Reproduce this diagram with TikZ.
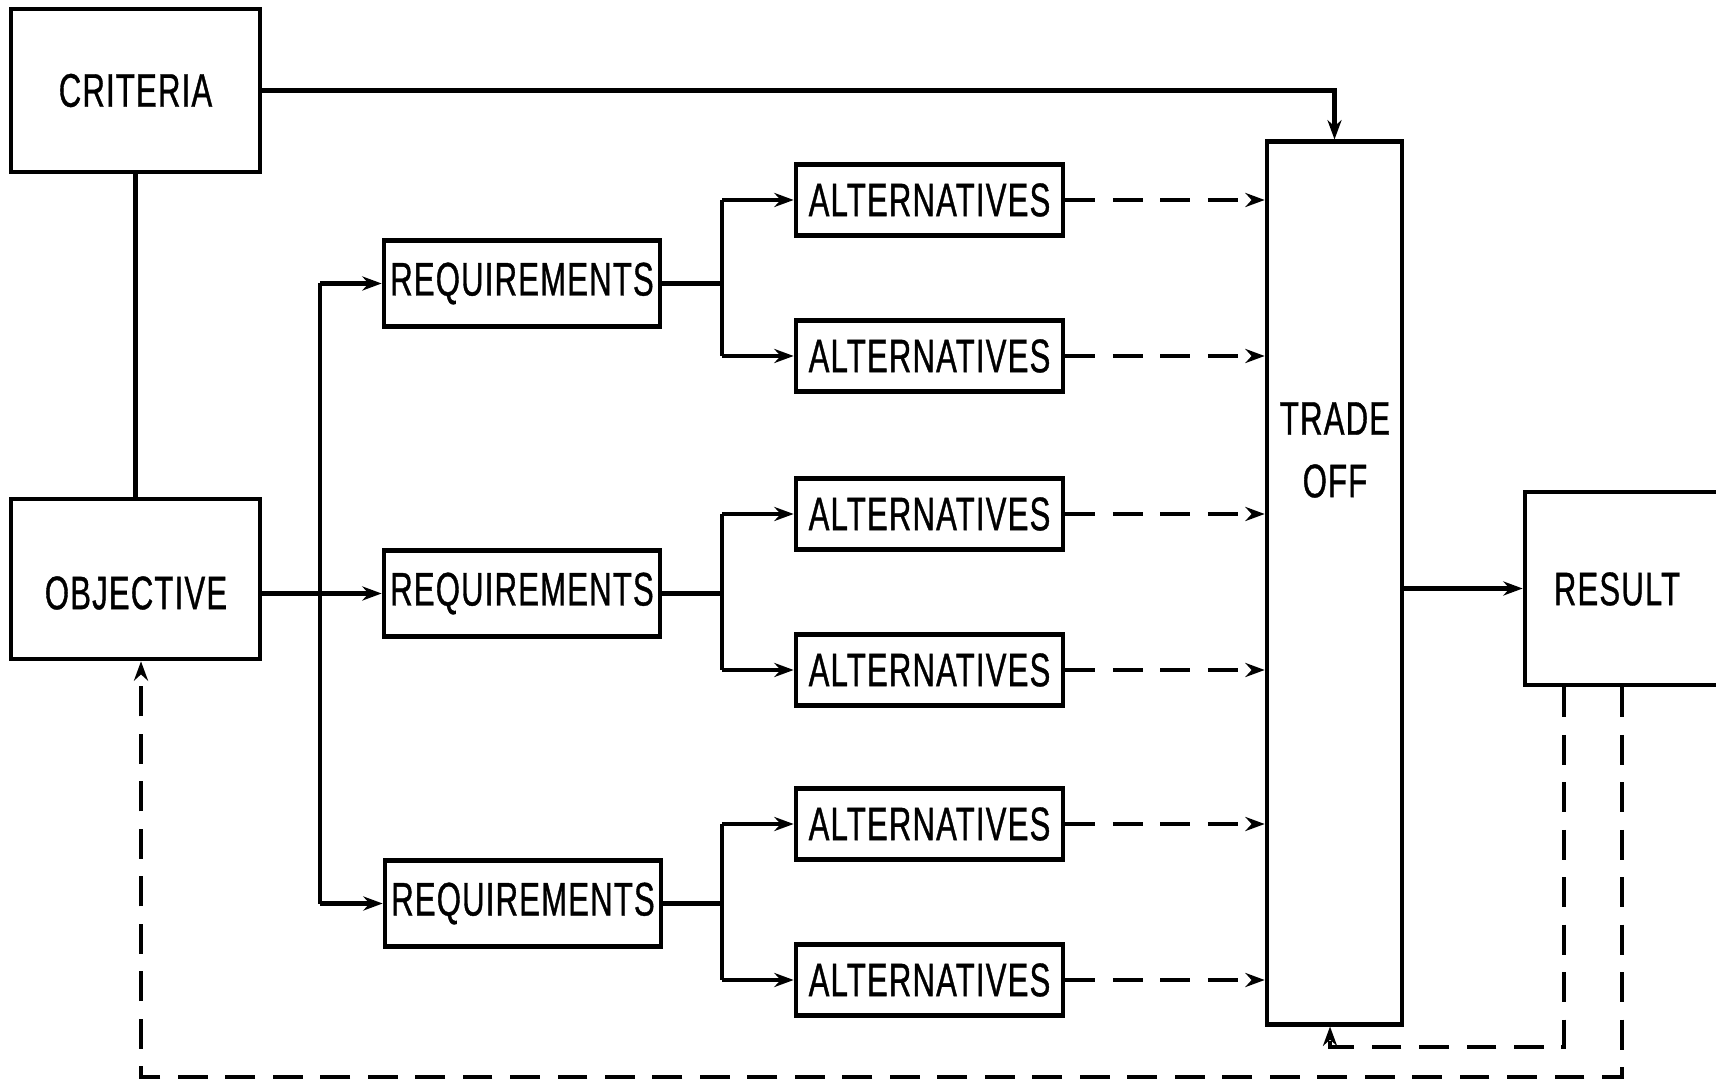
\documentclass[tikz,border=0pt]{standalone}
\usepackage{fontspec}
\setmainfont{Liberation Sans}[FakeStretch=0.66,LetterSpace=2.5,FakeBold=0.8]
\usetikzlibrary{arrows.meta}
\begin{document}
\begin{tikzpicture}[x=0.01cm,y=-0.01cm,
  box/.style={draw,line width=1.3pt,inner sep=0pt,rectangle},
  lbl/.style={inner sep=0pt,font=\fontsize{13.4}{15.5}\selectfont,align=center},
  conn/.style={line width=1.2pt},
  arr/.style={conn,-{Stealth[length=5.5pt,width=4pt]}},
  dsh/.style={dash pattern=on 8.5pt off 5pt}]
\useasboundingbox (0,0) rectangle (1716,1083);
\clip (0,0) rectangle (1716,1083);

% main blocks
\node[box,lbl,minimum width=2.49cm,minimum height=1.63cm] (crit) at (135.5,90.5) {CRITERIA};
\node[box,minimum width=2.49cm,minimum height=1.60cm] (obj) at (135.5,579) {};
\node[lbl] (objtxt) at (136,593) {OBJECTIVE};

\node[box,lbl,minimum width=2.76cm,minimum height=0.86cm] (req1) at (522,283.5) {REQUIREMENTS};
\node[box,lbl,minimum width=2.76cm,minimum height=0.86cm] (req2) at (522,593.5) {REQUIREMENTS};
\node[box,lbl,minimum width=2.76cm,minimum height=0.86cm] (req3) at (523,903.5) {REQUIREMENTS};

\foreach \i/\yy in {1/200,2/356,3/514,4/670,5/824,6/980}{
  \node[box,lbl,minimum width=2.67cm,minimum height=0.71cm] (alt\i) at (929.5,\yy) {ALTERNATIVES};
}

\node[box,minimum width=1.35cm,minimum height=8.82cm] (trade) at (1334.5,583) {};
\node[lbl] (tradetxt) at (1335,450) {TRADE\\[0.08cm]OFF};

\node[box,minimum width=2.35cm,minimum height=1.93cm] (res) at (1642.5,588.5) {};
\node[lbl] (restxt) at (1617,589) {RESULT};

% criteria feeds the trade-off and the objective
\draw[arr] (crit.east) -| (trade.north);
\draw[conn] (crit.south) -- (obj.north);

% objective to requirements bus
\coordinate (bus) at (320,0);
\draw[arr] (obj.east |- req2.west) -- (req2.west);
\draw[conn] (bus |- req1.west) -- (bus |- req3.west);
\draw[arr] (bus |- req1.west) -- (req1.west);
\draw[arr] (bus |- req3.west) -- (req3.west);

% requirements branch into alternatives
\coordinate (br) at (722,0);
\foreach \r/\a/\b in {1/1/2,2/3/4,3/5/6}{
  \draw[conn] (req\r.east) -- (br |- req\r.east);
  \draw[conn] (br |- alt\a.west) -- (br |- alt\b.west);
  \draw[arr] (br |- alt\a.west) -- (alt\a.west);
  \draw[arr] (br |- alt\b.west) -- (alt\b.west);
}

% alternatives into the trade-off
\foreach \i in {1,...,6}{
  \draw[arr,dsh] (alt\i.east) -- (alt\i.east -| trade.west);
}

% trade-off to result
\draw[arr] (trade.east |- res.west) -- (res.west);

% feedback loops
\coordinate (fb1) at (1564,1047);
\coordinate (fb2) at (1622,1077);
\coordinate (objin) at (141,0);
\coordinate (tradein) at (1330,0);
\draw[arr,dsh] (res.south -| fb1) -- (fb1) -| (tradein |- trade.south);
\draw[arr,dsh] (res.south -| fb2) -- (fb2) -| (objin |- obj.south);
\end{tikzpicture}
\end{document}
